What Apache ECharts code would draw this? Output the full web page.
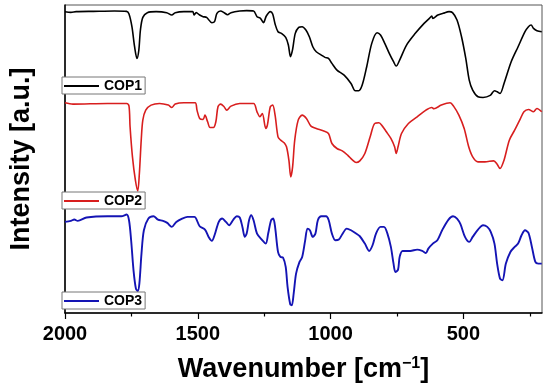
<!DOCTYPE html>
<html>
<head>
<meta charset="utf-8">
<script src="https://cdn.jsdelivr.net/npm/echarts@6/dist/echarts.min.js"></script>
<style>html,body{margin:0;padding:0;background:#fff}#c{width:550px;height:391px}</style>
</head>
<body>
<div id="c"></div>
<script>
// Tick labels
var majorTicks = [500, 1000, 1500, 2000];
var minorTicks = [250, 750, 1250, 1750];
var seriesNames = ['COP1', 'COP2', 'COP3'];

// COP1 (black), wavenumber [cm-1] and intensity (a.u., stacked offset)
var cop1X = [2000,1978,1958,1893,1814,1768,1759,1748,1738,1729,1722,1716,1707,1690,1657,1617,1598,1585,1552,1519,1514,1506,1493,1480,1467,1447,1437,1428,1414,1401,1388,1375,1342,1316,1290,1277,1264,1253,1242,1227,1218,1209,1198,1185,1169,1159,1151,1143,1133,1120,1107,1093,1080,1067,1054,1035,1021,1008,995,976,949,923,907,894,881,864,845,825,812,796,779,763,753,740,714,681,648,628,619,615,596,576,554,541,524,507,491,478,465,445,426,399,383,373,362,347,320,294,268,255,245,236,223,205];
var cop1Y = [903,901,903,904,905,904,896,858,798,763,788,848,886,900,903,900,893,900,903,903,893,900,893,888,886,870,873,898,905,900,894,900,905,906,905,888,883,870,890,903,896,866,843,838,826,803,768,790,838,856,858,848,828,798,783,773,766,763,748,728,713,688,666,666,683,738,808,840,833,808,778,753,740,758,803,838,868,883,890,883,893,898,903,900,878,828,763,698,668,648,646,652,666,663,658,688,753,798,843,858,863,853,846,843];

// COP2 (red)
var cop2X = [2000,1970,1840,1768,1759,1755,1746,1735,1726,1720,1713,1707,1696,1676,1644,1611,1598,1585,1552,1510,1503,1493,1480,1473,1463,1454,1441,1432,1424,1414,1401,1391,1375,1342,1290,1277,1266,1257,1244,1238,1227,1218,1209,1198,1188,1175,1166,1157,1150,1143,1135,1122,1107,1091,1074,1054,1028,1008,995,976,956,936,917,904,890,871,851,834,818,805,790,773,759,753,746,733,707,674,641,619,611,583,550,537,517,497,480,465,445,419,386,373,362,347,327,307,288,272,255,236,223,205];
var cop2Y = [630,626,628,628,620,558,468,398,366,418,518,578,608,623,628,623,616,626,630,630,608,583,580,593,573,556,556,573,618,626,618,608,620,628,628,603,588,598,553,563,618,623,593,528,518,510,498,458,408,438,518,578,593,583,560,553,546,538,508,493,486,473,458,451,456,478,528,568,570,560,543,523,498,478,498,538,568,588,608,616,612,623,630,620,593,553,498,468,453,453,456,446,433,458,518,548,578,603,610,603,613,603];

// COP3 (blue)
var cop3X = [2000,1978,1965,1952,1919,1840,1788,1768,1759,1751,1742,1733,1726,1720,1712,1703,1686,1667,1650,1631,1615,1598,1581,1559,1539,1513,1493,1473,1458,1447,1437,1421,1408,1394,1382,1366,1353,1342,1332,1323,1316,1307,1299,1290,1277,1257,1244,1235,1224,1216,1209,1198,1189,1179,1169,1162,1152,1146,1139,1130,1117,1107,1096,1087,1078,1067,1057,1048,1035,1017,1007,995,982,969,956,939,923,904,890,871,855,842,829,812,799,786,773,763,756,746,740,729,700,674,655,641,632,615,598,580,556,539,524,511,494,478,465,445,426,410,397,383,373,362,353,340,323,307,294,281,268,255,242,229,218,205];
var cop3Y = [273,276,280,276,286,290,290,295,278,218,128,73,66,88,178,248,283,290,280,276,270,258,273,283,288,288,260,250,226,216,233,273,283,273,263,280,290,286,258,228,238,278,293,278,238,218,208,238,278,283,258,183,168,166,138,78,26,23,58,118,153,168,216,253,248,228,238,278,290,290,278,238,218,220,236,253,248,238,230,208,186,203,238,258,258,238,198,148,123,130,168,186,186,190,186,180,193,208,218,248,280,290,283,266,228,213,228,250,263,258,243,208,148,103,98,148,183,198,208,233,248,240,198,153,148,148];

function pairs(xs, ys) { return xs.map(function (x, i) { return [x, ys[i]]; }); }

var chart = echarts.init(document.getElementById('c'), null, {renderer: 'canvas'});
var font = 'Liberation Sans, Arial, Helvetica, sans-serif';
var colors = ['#000000', '#d81e1e', '#1414b4'];
var legendTops = [77, 192, 292];

chart.setOption({
  animation: false,
  backgroundColor: '#fff',
  grid: {left: 62, right: 8, top: 5, bottom: 78, show: true, borderColor: '#555', borderWidth: 1},
  xAxis: [{
    type: 'value', inverse: true, min: 204, max: 2000,
    name: 'Wavenumber [cm{sup|−1}]', nameLocation: 'middle', nameGap: 43,
    nameTextStyle: {fontFamily: font, fontWeight: 'bold', fontSize: 27, color: '#000',
      rich: {sup: {fontFamily: font, fontWeight: 'bold', fontSize: 16, color: '#000', verticalAlign: 'top', padding: [0, 0, 12, 0]}}},
    axisLine: {show: true, lineStyle: {color: '#000', width: 1.5}},
    axisTick: {show: true, inside: false, length: 6, customValues: majorTicks, lineStyle: {color: '#000', width: 1.2}},
    axisLabel: {show: true, customValues: majorTicks, margin: 11, fontFamily: font, fontWeight: 'bold', fontSize: 20, color: '#000',
      formatter: function (v) { return String(v); }},
    splitLine: {show: false}
  }, {
    type: 'value', inverse: true, min: 204, max: 2000, position: 'bottom',
    axisLine: {show: false},
    axisTick: {show: true, inside: false, length: 3.5, customValues: minorTicks, lineStyle: {color: '#000', width: 1.2}},
    axisLabel: {show: false},
    splitLine: {show: false}
  }],
  yAxis: {
    type: 'value', min: 0, max: 923,
    name: 'Intensity [a.u.]', nameLocation: 'middle', nameGap: 30,
    nameTextStyle: {fontFamily: font, fontWeight: 'bold', fontSize: 27, color: '#000'},
    axisLine: {show: true, lineStyle: {color: '#000', width: 1.5}},
    axisTick: {show: false}, axisLabel: {show: false}, splitLine: {show: false}
  },
  legend: seriesNames.map(function (n, i) {
    return {
      data: [n], left: 62, top: legendTops[i], orient: 'horizontal',
      icon: 'rect', itemWidth: 35, itemHeight: 2,
      padding: [2, 3, 1, 2], borderColor: '#777', borderWidth: 1, borderRadius: 0,
      backgroundColor: '#fff', selectedMode: false,
      textStyle: {fontFamily: font, fontWeight: 'bold', fontSize: 14, color: '#000'}
    };
  }),
  series: [
    {name: 'COP1', type: 'line', data: pairs(cop1X, cop1Y), showSymbol: false, symbol: 'none', smooth: 0.3, color: colors[0], lineStyle: {width: 1.6, color: colors[0]}},
    {name: 'COP2', type: 'line', data: pairs(cop2X, cop2Y), showSymbol: false, symbol: 'none', smooth: 0.3, color: colors[1], lineStyle: {width: 1.6, color: colors[1]}},
    {name: 'COP3', type: 'line', data: pairs(cop3X, cop3Y), showSymbol: false, symbol: 'none', smooth: 0.3, color: colors[2], lineStyle: {width: 1.9, color: colors[2]}}
  ]
});
</script>
</body>
</html>
